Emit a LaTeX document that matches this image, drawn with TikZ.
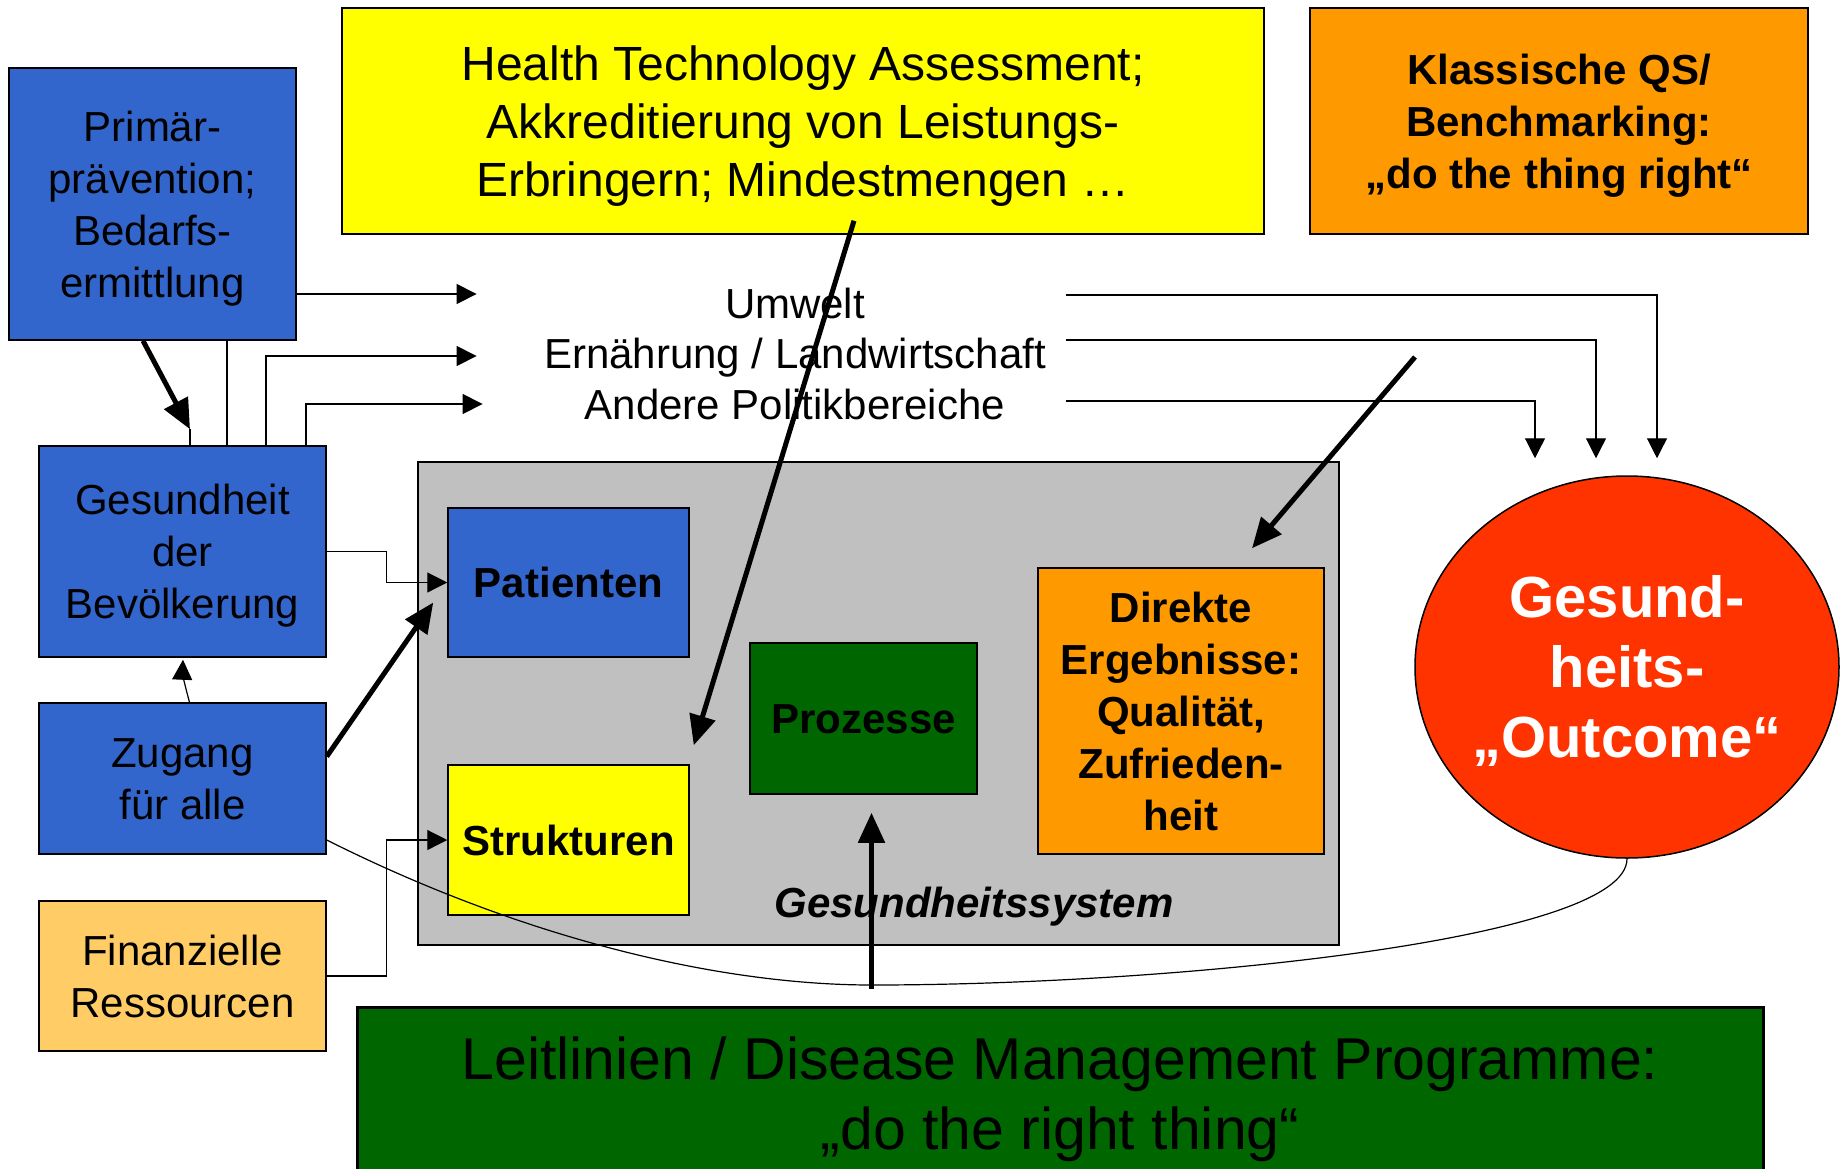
\documentclass[tikz,border=0pt]{standalone}
\usepackage{fontspec}
\setmainfont{Liberation Sans}
\usepackage{xcolor}
\usepackage{tikz}
\usetikzlibrary{arrows.meta}
\usetikzlibrary{shapes.geometric}
\usetikzlibrary{calc}
\definecolor{hblue}{HTML}{3366CC}
\definecolor{hyellow}{HTML}{FFFF00}
\definecolor{horange}{HTML}{FF9900}
\definecolor{hsand}{HTML}{FFCC66}
\definecolor{hgreen}{HTML}{006600}
\definecolor{hgrey}{HTML}{C0C0C0}
\definecolor{hred}{HTML}{FF3300}
\tikzset{
    boxnode/.style = {align=center, inner sep=0pt, text centered, rectangle, draw=black, line width=0.75pt, text height=15pt, text depth=0pt, font=\fontsize{21}{26}\selectfont},
    blue_node/.style = {boxnode, fill=hblue},
    yellow_node/.style = {boxnode, fill=hyellow},
    orange_node/.style = {boxnode, fill=horange},
    sand_node/.style = {boxnode, fill=hsand},
    green_node/.style = {boxnode, fill=hgreen},
    grey_node/.style = {boxnode, fill=hgrey},
    red_node/.style = {ellipse, align=center, inner ysep=0pt, inner xsep=-10pt, draw=black, line width=0.75pt, fill=hred, text=white, minimum width=212pt, minimum height=191pt, text height=90.8pt, text depth=0pt, font=\fontsize{29}{35}\selectfont\bfseries},
    bold_text/.style = {font=\fontsize{21}{26}\selectfont\bfseries},
    policy_text/.style = {inner sep=0pt, minimum width=271pt, text height=15pt, text depth=0pt, font=\fontsize{21}{26}\selectfont}
}
\begin{document}
\begin{tikzpicture}
    [x=0.5pt, y=-0.5pt, >={Triangle[length=10pt, width=10pt]},
    link_line/.style = {line width=0.6pt},
    link_arrow/.style = {->, line width=0.6pt},
    bold_arrow/.style = {-{Triangle[length=15pt, width=13pt]}, line width=2.5pt}]

    \useasboundingbox (0,0) rectangle (1847,1168);

    % top row
    \node [blue_node, minimum width=143.5pt, minimum height=136pt, text height=93pt] (prim) at (152.5,204) {Primär-\\prävention;\\Bedarfs-\\ermittlung};
    \node [yellow_node, minimum width=461pt, minimum height=113pt, text height=75.2pt, font=\fontsize{24}{29}\selectfont] (hta) at (803,121) {Health Technology Assessment;\\Akkreditierung von Leistungs-\\Erbringern; Mindestmengen …};
    \node [orange_node, bold_text, minimum width=249pt, minimum height=113pt, text height=67pt] (qs) at (1559,121) {Klassische QS/\\Benchmarking:\\„do the thing right“};

    % other policy fields
    \node [policy_text] (umwelt) at (795,303) {Umwelt};
    \node [policy_text] (ernaehrung) at (795,353) {Ernährung / Landwirtschaft};
    \node [policy_text] (andere) at (795,404) {Andere Politikbereiche};

    % left column
    \node [blue_node, minimum width=143.5pt, minimum height=105.5pt, text height=67pt] (gesund) at (182.5,551.5) {Gesundheit\\der\\Bevölkerung};
    \node [blue_node, minimum width=143.5pt, minimum height=75.5pt, text height=41pt] (zugang) at (182.5,778.5) {Zugang\\für alle};
    \node [sand_node, minimum width=143.5pt, minimum height=75pt, text height=41pt] (finanz) at (182.5,976) {Finanzielle\\Ressourcen};

    % health care system
    \node [grey_node, minimum width=460.5pt, minimum height=241.5pt] (system) at (878.5,703.5) {};
    \node [font=\fontsize{21}{26}\selectfont\bfseries\itshape, inner sep=0pt] (system_label) at (974,907) {Gesundheitssystem};
    \node [blue_node, bold_text, minimum width=120.5pt, minimum height=74.5pt] (patienten) at (568.5,582.5) {Patienten};
    \node [yellow_node, bold_text, minimum width=120.5pt, minimum height=75pt] (struktur) at (568.5,840) {Strukturen};
    \node [green_node, bold_text, minimum width=113.5pt, minimum height=75.5pt] (prozesse) at (863.5,718.5) {Prozesse};
    \node [orange_node, bold_text, minimum width=143pt, minimum height=143pt, text height=119pt] (direkt) at (1181,711) {Direkte\\Ergebnisse:\\Qualität,\\Zufrieden-\\heit};

    \node [red_node] (outcome) at (1627,667) {Gesund-\\heits-\\„Outcome“};
    \node [green_node, minimum width=703pt, minimum height=86.5pt, line width=1.5pt, text height=56.4pt, font=\fontsize{29.5}{35.3}\selectfont] (leit) at (1060,1093.5) {Leitlinien / Disease Management Programme:\\„do the right thing“};

    % thin connectors
    \draw [link_arrow] ($(prim.east |- umwelt.west)+(0,-9)$) -- ($(umwelt.west)+(-47,-9)$);
    \draw [link_line] ($(prim.south)+(74.5,0)$) -- ($(gesund.north)+(44.5,0)$);
    \draw [link_arrow] ($(gesund.north)+(83.5,0)$) |- ($(ernaehrung.west)+(-47,3)$);
    \draw [link_arrow] ($(gesund.north)+(123.5,0)$) |- ($(andere.west)+(-41,0)$);
    \draw [link_arrow] ($(umwelt.east)+(0,-8)$) -| ($(outcome.north)+(30,-17)$);
    \draw [link_arrow] ($(ernaehrung.east)+(0,-13)$) -| ($(outcome.north)+(-31,-17)$);
    \draw [link_arrow] ($(andere.east)+(0,-3)$) -| ($(outcome.north)+(-92,-17)$);
    \draw [link_arrow] (gesund.east) -- ++(60,0) |- (patienten.west);
    \draw [link_arrow] (finanz.east) -- ++(60,0) |- (struktur.west);
    \draw [link_arrow] ($(zugang.north)+(7,0)$) .. controls ($(zugang.north)+(1,-22)$) and ($(gesund.south)+(0,14)$) .. ($(gesund.south)+(0.5,2)$);
    \draw [link_line] ($(zugang.east)+(0,61.5)$) .. controls (526,940) and (722,985) .. (872,985)
        .. controls (1172,985) and (1627,940) .. (outcome.south);

    % bold arrows
    \draw [bold_arrow] ($(prim.south)+(-9.5,0)$) -- ($(gesund.north)+(7.5,-16)$);
    \draw [link_line] ($(gesund.north)+(7.5,-16)$) -- ($(gesund.north)+(7.5,0)$);
    \draw [bold_arrow] ($(zugang.east)+(0,-22)$) -- ($(patienten.west)+(-14,20)$);
    \draw [bold_arrow] ($(hta.south)+(51,-14)$) -- ($(struktur.north east)+(4,-19)$);
    \coordinate (qs_tail) at (1415,357);
    \draw [bold_arrow] (qs_tail) -- ($(direkt.north)+(71,-19)$);
    \draw [bold_arrow] ($(leit.north -| prozesse.south)+(8,-17)$) -- ($(prozesse.south)+(8,18)$);
\end{tikzpicture}
\end{document}
